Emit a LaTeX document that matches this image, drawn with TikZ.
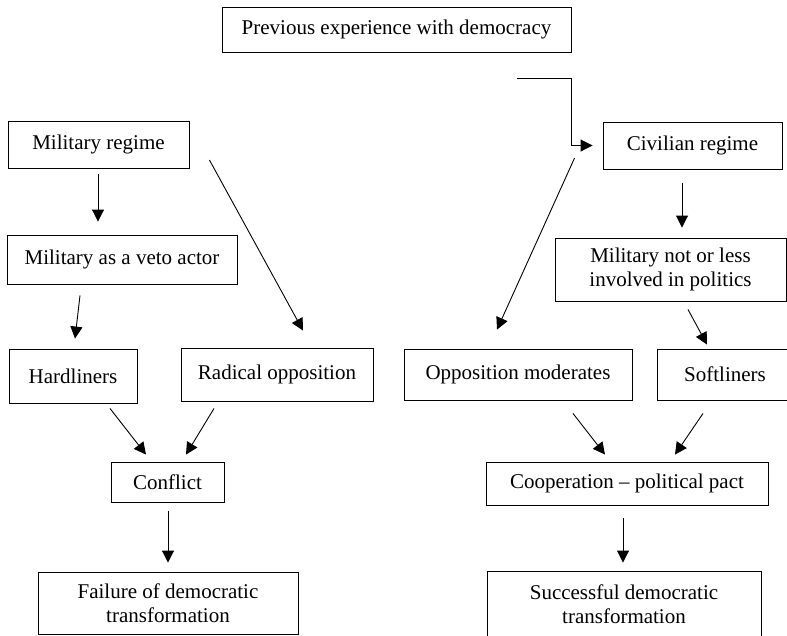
\documentclass[tikz,border=0pt]{standalone}
\usepackage{fontspec}
\setmainfont{Liberation Serif}
\usetikzlibrary{arrows.meta}

\begin{document}
\begin{tikzpicture}[x=1pt,y=-1pt,>={Triangle[length=12pt,width=12pt]},line width=0.9pt,
    main node/.style={draw,rectangle,inner sep=0pt,align=center,font=\fontsize{21}{24}\selectfont}]
                    \clip (0,0) rectangle (787,635);

                    \node[main node,minimum width=349,minimum height=45] (prev) at (396.5,29.5) {Previous experience with democracy};

                    \node[main node,minimum width=181,minimum height=47] (milreg) at (98.5,144.5) {Military regime};
                    \node[main node,minimum width=230,minimum height=49] (veto) at (122,259.5) {Military as a veto actor};
                    \node[main node,minimum width=128,minimum height=54] (hard) at (73,376) {Hardliners};
                    \node[main node,minimum width=192,minimum height=53] (radical) at (277,374.5) {Radical opposition};
                    \node[main node,minimum width=113,minimum height=40] (conflict) at (167.5,482) {Conflict};
                    \node[main node,minimum width=260,minimum height=62] (failure) at (168,603) {Failure of democratic\\transformation};

                    \node[main node,minimum width=179,minimum height=47] (civreg) at (692.5,145.5) {Civilian regime};
                    \node[main node,minimum width=231,minimum height=63] (notless) at (670.5,269.5) {Military not or less\\involved in politics};
                    \node[main node,minimum width=228,minimum height=51] (moder) at (518,374.5) {Opposition moderates};
                    \node[main node,minimum width=136,minimum height=51] (soft) at (725,374.5) {Softliners};
                    \node[main node,minimum width=282,minimum height=43] (coop) at (627,483.5) {Cooperation -- political pact};
                    \node[main node,minimum width=274,minimum height=66] (success) at (624,604) {Successful democratic\\transformation};

                    \coordinate (bend) at ([shift={(120.5,26)}]prev.south);

                    \draw[->] (bend) -| (prev.east |- civreg.west) -- ([shift={(-10,0)}]civreg.west);

                    \path[->]
                        ([shift={(-0.5,6)}]milreg.south) edge ([shift={(-24,-13)}]veto.north)
                        ([shift={(-42,11)}]veto.south) edge ([shift={(2,-10)}]hard.north)
                        ([shift={(20,15.5)}]milreg.east) edge ([shift={(26,-17)}]radical.north)
                        ([shift={(37,5)}]hard.south) edge ([shift={(-21.5,-7)}]conflict.north)
                        ([shift={(-63,7)}]radical.south) edge ([shift={(18.5,-7)}]conflict.north)
                        ([shift={(0.5,9)}]conflict.south) edge ([shift={(0,-9)}]failure.north)

                        ([shift={(-10.5,14)}]civreg.south) edge ([shift={(11.5,-10)}]notless.north)
                        ([shift={(-28,12.5)}]civreg.west) edge ([shift={(-21,-19)}]moder.north)
                        ([shift={(17.5,8)}]notless.south) edge ([shift={(-18,-4)}]soft.north)
                        ([shift={(55,13)}]moder.south) edge ([shift={(-22,-7)}]coop.north)
                        ([shift={(-22,13)}]soft.south) edge ([shift={(48,-7)}]coop.north)
                        ([shift={(-4,13)}]coop.south) edge ([shift={(-1,-8)}]success.north)
                        ;
                \end{tikzpicture}
\end{document}
